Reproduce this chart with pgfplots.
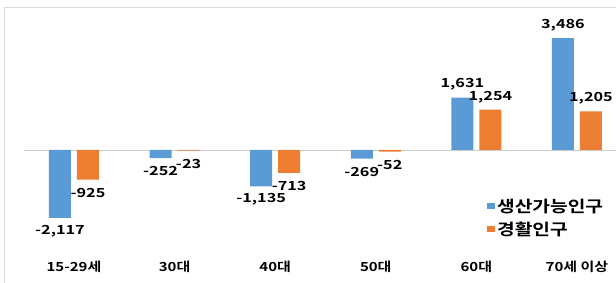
\documentclass[border=0pt]{standalone}
\usepackage{pgfplots}
\pgfplotsset{compat=1.18}
\usepackage{fontspec}
\setmainfont{Noto Sans CJK KR}[FakeStretch=1.2, BoldFont={Noto Sans CJK KR Bold}, BoldFeatures={FakeStretch=1.2}]
\newfontfamily\numfont{Noto Sans CJK KR Bold}[FakeStretch=1.3]
\definecolor{cblue}{HTML}{5B9BD5}
\definecolor{corange}{HTML}{ED7D31}
\begin{document}
\begin{tikzpicture}
\useasboundingbox (0,0) rectangle (616bp,283bp);
\draw[gray!30, line width=0.8bp] (4bp,0) -- (4bp,276bp) -- (616bp,276bp);
\begin{axis}[
  at={(24bp,16bp)}, anchor=south west,
  scale only axis, width=592bp, height=260bp,
  xmin=-0.497, xmax=5.388, ymin=-3645, ymax=4455,
  ybar=6bp, bar width=22bp,
  axis line style={draw=none},
  major tick length=0pt,
  ytick=\empty,
  xtick=data,
  xticklabels={15-29세,30대,40대,50대,60대,70세 이상},
  xticklabel style={anchor=center, font=\bfseries\fontsize{12.5bp}{15bp}\selectfont},
  extra y ticks={0}, extra y tick labels={},
  extra y tick style={grid=major, major grid style={gray!40, line width=0.8bp}},
  clip=false,
  /pgf/number format/.cd, fixed, precision=0, 1000 sep={,}, assume math mode=true, /pgfplots/.cd,
  nodes near coords,
  visualization depends on={rawy \as \rawy},
  nodes near coords style={font=\numfont\fontsize{12.5bp}{14bp}\selectfont, inner sep=0pt, anchor=center, yshift={\ifdim\rawy pt<0pt -13bp\else 13bp\fi}},
  legend style={at={(rel axis cs:0.782,0.27)}, anchor=north west, draw=none, fill=none, font=\bfseries\fontsize{16bp}{18bp}\selectfont, row sep=4bp, legend cell align=left, inner sep=0pt},
  legend image code/.code={\fill[#1] (0bp,-3bp) rectangle (8bp,3bp);},
]
\addplot[fill=cblue, draw=none] coordinates {(0,-2117) (1,-252) (2,-1135) (3,-269) (4,1631) (5,3486)};
\addplot[fill=corange, draw=none] coordinates {(0,-925) (1,-23) (2,-713) (3,-52) (4,1254) (5,1205)};
\legend{생산가능인구, 경활인구}
\end{axis}
\end{tikzpicture}
\end{document}
